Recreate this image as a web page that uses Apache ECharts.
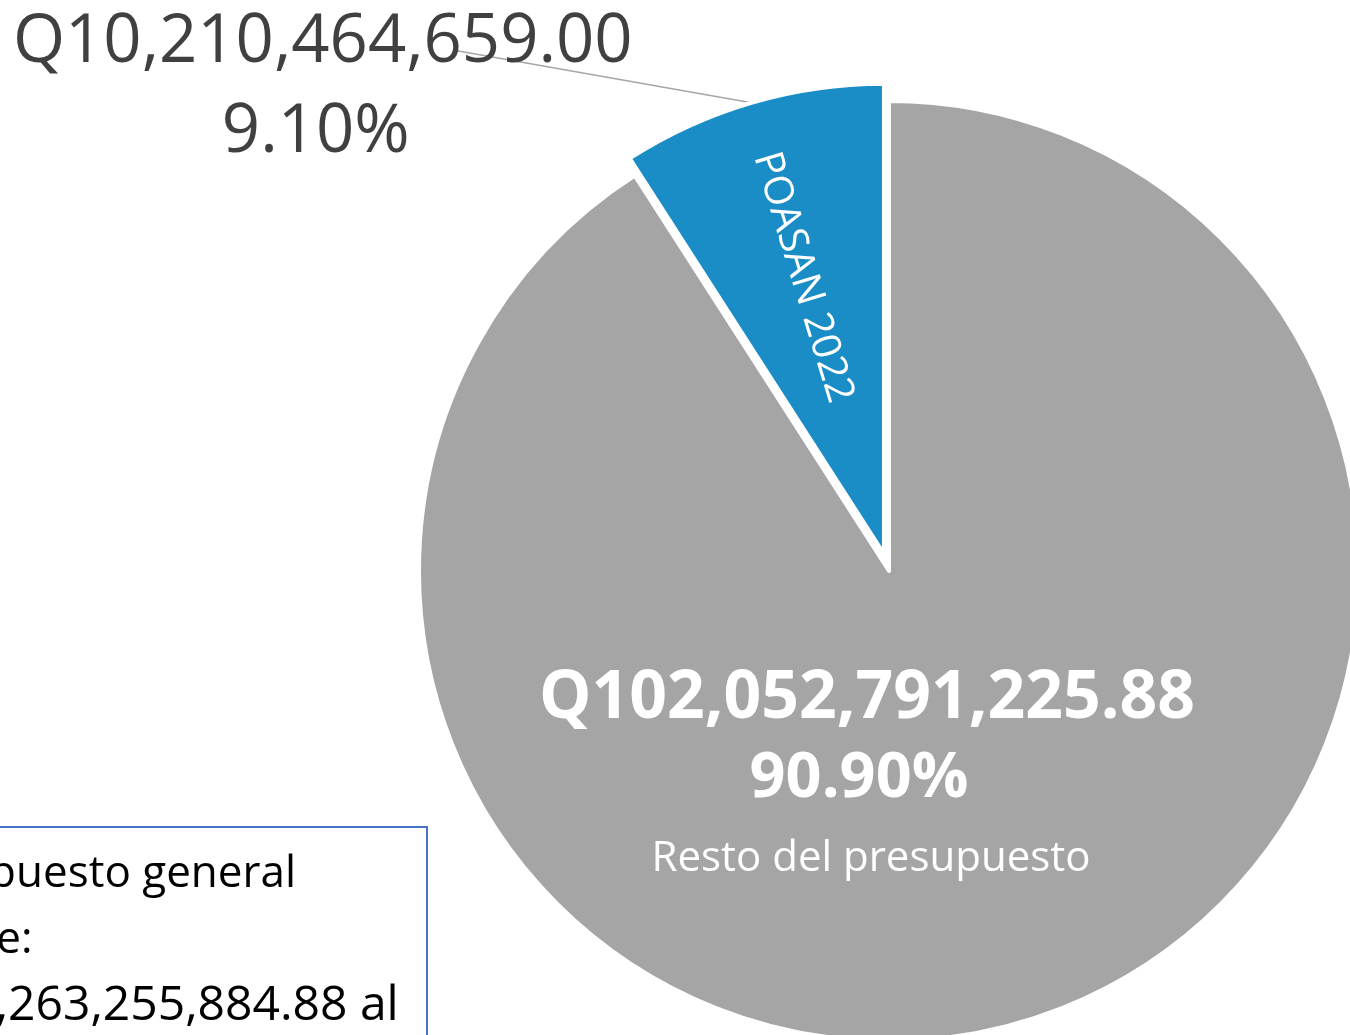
<!DOCTYPE html>
<html>
<head>
<meta charset="utf-8">
<title>POASAN 2022</title>
<script src="https://cdn.jsdelivr.net/npm/echarts@6/dist/echarts.min.js"></script>
<style>
html,body{margin:0;padding:0;background:#fff;}
#chart{width:1350px;height:1035px;}
</style>
</head>
<body>
<div id="chart"></div>
<script>
"use strict";
// datos del grafico
var categorias = ['Resto del presupuesto', 'POASAN 2022'];
var montos = [102052791225.88, 10210464659.00];
var colores = ['#a5a5a5', '#1a8cc6'];
// texto del cuadro inferior
var nota = ['Presupuesto general', 'vigente:', 'Q112,263,255,884.88 al'];

var FUENTE = '"Open Sans", "Noto Sans", sans-serif';

// formato Q con comas
function fmtQ(v){
    var p = v.toFixed(2).split('.');
    return 'Q' + p[0].replace(/\B(?=(\d{3})+(?!\d))/g, ',') + '.' + p[1];
}

var datosPie = [], datosNombre = [];
for (var i = 0; i < categorias.length; i++) {
    var item = {
        name: categorias[i],
        value: montos[i],
        selected: i == 1,
        itemStyle: {color: colores[i]}
    };
    if (i == 0) {
        item.label = {
            position: 'center',
            offset: [-22, 208],
            formatter: function(p){
                return '{v|' + fmtQ(p.value) + '}\n{p|' + p.percent.toFixed(2) + '%}\n{n|' + p.name + '}';
            },
            rich: {
                v: {fontFamily: FUENTE, fontSize: 66, fontWeight: 'bold', color: '#fff', lineHeight: 80},
                p: {fontFamily: FUENTE, fontSize: 63, fontWeight: 'bold', color: '#fff', lineHeight: 80, padding: [0, 16, 0, 0]},
                n: {fontFamily: FUENTE, fontSize: 42, color: '#fff', lineHeight: 80, padding: [0, 0, 0, 8]}
            }
        };
        item.labelLine = {show: false};
    } else {
        // etiqueta externa pegada al borde izquierdo
        item.label = {
            position: 'outside',
            alignTo: 'edge',
            edgeDistance: 18,
            formatter: function(p){
                return '{v|' + fmtQ(p.value) + '}\n{p|' + p.percent.toFixed(2) + '%}';
            },
            rich: {
                v: {fontFamily: FUENTE, fontSize: 67, color: '#404040', lineHeight: 90, align: 'center'},
                p: {fontFamily: FUENTE, fontSize: 67, color: '#404040', lineHeight: 90, align: 'center', padding: [0, 14, 0, 0]}
            }
        };
        item.labelLine = {show: true, length: 15, length2: 10, lineStyle: {color: '#a6a6a6', width: 1.5}};
    }
    datosPie.push(item);

    datosNombre.push({
        name: categorias[i],
        value: montos[i],
        selected: i == 1,
        label: {show: i == 1}
    });
}

var myChart = echarts.init(document.getElementById('chart'));
var option = {
    animation: false,
    backgroundColor: '#fff',
    graphic: [
        {
            type: 'rect',
            shape: {x: -10, y: 827, width: 437, height: 260},
            style: {fill: '#fff', stroke: '#4472c4', lineWidth: 2}
        },
        {
            type: 'text',
            x: -128,
            y: 841,
            style: {
                text: '{a|' + nota[0] + '}\n{a|' + nota[1] + '}\n{b|' + nota[2] + '}',
                verticalAlign: 'top',
                rich: {
                    a: {fontFamily: FUENTE, fontSize: 44, lineHeight: 66, fill: '#000'},
                    b: {fontFamily: FUENTE, fontSize: 48, lineHeight: 66, fill: '#000', padding: [0, 0, 0, 4]}
                }
            }
        }
    ],
    series: [
        {
            type: 'pie',
            center: [889, 571],
            radius: [0, 470],
            startAngle: 90,
            clockwise: true,
            selectedMode: 'single',
            selectedOffset: 18,
            avoidLabelOverlap: false,
            emphasis: {disabled: true},
            itemStyle: {borderColor: '#fff', borderWidth: 4},
            select: {itemStyle: {borderColor: '#fff', borderWidth: 4}},
            labelLayout: function(params){
                if (params.dataIndex !== 1) return {};
                // linea guia recta desde el arco hasta debajo del monto
                var pts = params.labelLinePoints;
                if (!pts || !pts.length) return {};
                var a = pts[0];
                return {labelLinePoints: [a, [(a[0] + 462) / 2, (a[1] + 68) / 2], [462, 68]]};
            },
            data: datosPie
        },
        {
            type: 'pie',
            center: [889, 571],
            radius: [100, 470],
            startAngle: 90,
            clockwise: true,
            silent: true,
            selectedMode: 'single',
            selectedOffset: 18,
            avoidLabelOverlap: false,
            emphasis: {disabled: true},
            itemStyle: {color: 'rgba(0,0,0,0)', borderWidth: 0},
            select: {itemStyle: {color: 'rgba(0,0,0,0)', borderWidth: 0}},
            label: {
                position: 'inside',
                rotate: -73,
                formatter: '{b}',
                fontFamily: FUENTE,
                fontSize: 40,
                color: '#fff'
            },
            labelLine: {show: false},
            data: datosNombre
        }
    ]
};
myChart.setOption(option, true);
</script>
</body>
</html>
